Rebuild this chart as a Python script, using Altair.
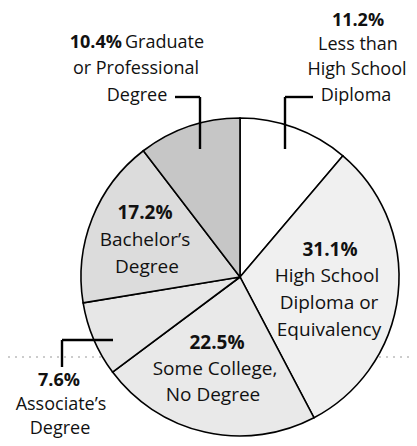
import altair as alt
import pandas as pd

# ---- data ----
categories = ["Less than High School Diploma", "High School Diploma or Equivalency",
              "Some College, No Degree", "Associate's Degree", "Bachelor's Degree",
              "Graduate or Professional Degree"]
shares = [11.2, 31.1, 22.5, 7.6, 17.2, 10.4]
fills = ["#ffffff", "#f0f0f0", "#e9e9e9", "#e7e7e7", "#dcdcdc", "#c6c6c6"]

# label lines: text, x, y, bold, align, size  (positions in page pixel coords)
label_text = ["11.2%", "Less than", "High School", "Diploma",
              "10.4%", "Graduate", "or Professional", "Degree",
              "17.2%", "Bachelor\u2019s", "Degree",
              "31.1%", "High School", "Diploma or", "Equivalency",
              "22.5%", "Some College,", "No Degree",
              "7.6%", "Associate\u2019s", "Degree"]
label_x = [358, 358, 357, 356,
           122, 125, 136, 137,
           145, 145, 147,
           330, 327, 329, 329,
           217, 215, 213,
           59, 61, 60]
label_y = [21, 45, 70, 96,
           43, 43, 69, 96,
           213, 240, 267,
           250, 276, 303, 330,
           343, 369, 395,
           381, 405, 429]
label_bold = [1, 0, 0, 0,
              1, 0, 0, 0,
              1, 0, 0,
              1, 0, 0, 0,
              1, 0, 0,
              1, 0, 0]
label_align = ["center", "center", "center", "center",
               "right", "left", "center", "center",
               "center", "center", "center",
               "center", "center", "center", "center",
               "center", "center", "center",
               "center", "center", "center"]
label_size = [18, 18, 18, 18,
              18, 18, 18, 18,
              19, 19, 19,
              19, 19, 19, 19,
              19, 19, 19,
              18, 18, 18]

# leader line segments
seg_x1 = [175, 200, 285, 285, 62, 62]
seg_y1 = [97, 97, 97, 97, 340, 340]
seg_x2 = [200, 200, 313, 285, 113, 62]
seg_y2 = [97, 149, 97, 149, 340, 367]

CX, CY, R = 240, 277, 159
W, H = 401, 430

pie_df = pd.DataFrame({"cat": categories, "share": shares, "fill": fills,
                       "order": list(range(len(categories)))})
lab_df = pd.DataFrame({"t": label_text, "x": label_x, "y": label_y,
                       "bold": label_bold, "al": label_align, "sz": label_size})
seg_df = pd.DataFrame({"x": seg_x1, "y": seg_y1, "x2": seg_x2, "y2": seg_y2})
dot_df = pd.DataFrame({"x": [8], "x2": [409], "y": [357]})

xs = alt.Scale(domain=[8, 8 + W], range=[0, W])
ys = alt.Scale(domain=[8, 8 + H], range=[0, H])

pie = alt.Chart(pie_df).mark_arc(outerRadius=R, stroke="black", strokeWidth=1.6).encode(
    theta=alt.Theta("share:Q", stack=True),
    order=alt.Order("order:Q"),
    color=alt.Color("fill:N", scale=None),
    x=alt.value(CX - 8), y=alt.value(CY - 8),
)

dots = alt.Chart(dot_df).mark_rule(color="#999999", strokeWidth=1.2, strokeDash=[2, 5]).encode(
    x=alt.X("x:Q", scale=xs, axis=None), x2="x2:Q",
    y=alt.Y("y:Q", scale=ys, axis=None),
)

segs = alt.Chart(seg_df).mark_rule(color="black", strokeWidth=2.4).encode(
    x=alt.X("x:Q", scale=xs, axis=None), x2="x2:Q",
    y=alt.Y("y:Q", scale=ys, axis=None), y2="y2:Q",
)

def text_layer(bold, align):
    d = lab_df[(lab_df["bold"] == bold) & (lab_df["al"] == align)]
    return alt.Chart(d).mark_text(
        font="Open Sans", fontWeight="bold" if bold else "normal",
        align=align, baseline="middle", color="#111111",
    ).encode(
        x=alt.X("x:Q", scale=xs, axis=None),
        y=alt.Y("y:Q", scale=ys, axis=None),
        size=alt.Size("sz:Q", scale=None),
        text="t:N",
    )

texts = [text_layer(b, a) for b in (0, 1) for a in ("left", "center", "right")
         if len(lab_df[(lab_df["bold"] == b) & (lab_df["al"] == a)]) > 0]

chart = alt.layer(dots, pie, segs, *texts).properties(
    width=W, height=H, padding=0, background="white",
    autosize=alt.AutoSizeParams(type="none"),
).configure_view(stroke=None)

chart.save("out.html", embed_options={"renderer": "svg", "actions": False})
